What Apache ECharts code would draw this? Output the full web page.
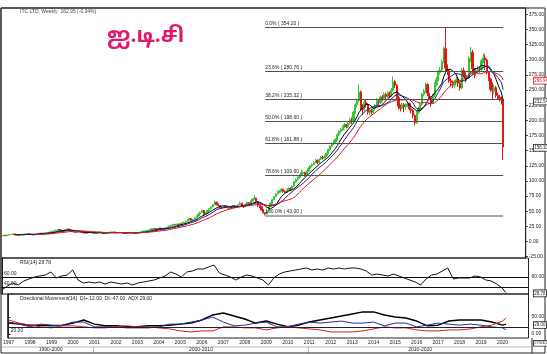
<!DOCTYPE html>
<html>
<head>
<meta charset="utf-8">
<title>ITC</title>
<script src="https://cdn.jsdelivr.net/npm/echarts@6/dist/echarts.min.js"></script>
<style>
  html, body { margin: 0; padding: 0; background: #fff; }
  #chart { width: 547px; height: 354px; }
</style>
</head>
<body>
<div id="chart"></div>
<script>
// monthly candles, Jan 1997 .. Mar 2020
var startYear = 1997
var closes = [
  9.5, 10.2, 9.8, 10.6, 11.3, 11.8, 12.4, 11.9, 11.2, 10.4, 10.9, 11.5,
  11.9, 12.6, 13.1, 12.4, 11.6, 10.9, 11.7, 12.3, 13.0, 13.8, 13.2, 13.9,
  14.6, 15.3, 14.7, 15.8, 16.9, 17.6, 18.8, 19.9, 18.6, 17.4, 18.2, 19.6,
  20.8, 19.1, 17.6, 16.4, 15.3, 14.8, 15.6, 16.2, 15.1, 14.2, 13.6, 14.4,
  14.9, 15.6, 14.3, 13.7, 14.2, 14.8, 15.4, 14.6, 13.0, 13.8, 14.5, 15.1,
  15.4, 15.9, 15.2, 14.6, 14.2, 14.8, 14.5, 14.0, 13.6, 14.1, 14.6, 15.2,
  14.9, 14.4, 13.9, 14.3, 15.2, 15.9, 16.8, 17.6, 18.4, 19.1, 19.8, 21.0,
  21.6, 20.8, 21.3, 22.0, 19.9, 21.1, 22.3, 23.0, 24.4, 25.6, 26.9, 28.3,
  27.6, 28.9, 28.2, 29.6, 30.8, 32.1, 33.5, 35.6, 37.8, 35.2, 36.9, 39.4,
  42.1, 45.6, 48.3, 51.2, 45.4, 47.8, 50.9, 54.1, 57.3, 60.6, 64.8, 61.5,
  59.3, 56.2, 55.4, 57.9, 56.6, 55.8, 55.1, 57.6, 59.1, 57.2, 58.8, 60.9,
  63.2, 58.9, 57.6, 61.8, 64.5, 63.1, 66.8, 69.9, 71.8, 65.6, 59.7, 57.4,
  52.1, 47.6, 45.3, 50.6, 58.2, 63.1, 69.2, 74.1, 78.6, 81.2, 83.4, 86.3,
  82.8, 81.3, 84.6, 87.5, 85.9, 91.2, 98.6, 102.1, 105.7, 108.9, 112.4, 113.8,
  109.6, 116.2, 121.1, 124.8, 127.2, 130.6, 134.1, 130.2, 135.8, 139.4, 137.9, 141.6,
  145.2, 151.8, 157.3, 161.9, 164.5, 168.7, 176.4, 181.9, 184.6, 189.3, 192.8, 189.6,
  195.4, 201.2, 198.3, 213.6, 225.8, 232.4, 246.9, 222.1, 217.6, 229.8, 226.4, 213.5,
  216.3, 213.8, 219.6, 224.1, 232.7, 228.9, 238.5, 236.4, 242.9, 239.6, 245.1, 241.3,
  249.6, 263.8, 258.2, 237.4, 223.6, 219.9, 225.8, 222.4, 224.9, 227.3, 219.1, 216.7,
  208.2, 196.1, 213.4, 219.6, 226.8, 243.2, 248.7, 259.4, 244.8, 237.2, 228.1, 241.6,
  259.3, 267.6, 279.4, 282.7, 296.8, 318.2, 286.4, 282.3, 265.1, 262.6, 257.9, 263.8,
  268.1, 261.4, 253.3, 282.6, 275.4, 269.8, 272.1, 302.3, 312.4, 285.1, 278.2, 282.4,
  285.3, 284.1, 298.6, 303.1, 299.6, 279.2, 268.1, 251.3, 249.2, 254.1, 241.2, 238.3,
  236.1, 234.0, 156.1
]
var highs = [
  9.9, 10.6, 10.5, 10.9, 11.6, 12.2, 12.8, 12.7, 12.1, 11.4, 11.2, 11.8,
  12.2, 12.9, 13.5, 13.4, 12.6, 11.8, 12.0, 12.6, 13.3, 14.2, 14.0, 14.2,
  15.0, 15.8, 15.6, 16.2, 17.4, 18.1, 19.3, 20.8, 20.1, 18.9, 18.6, 20.1,
  21.6, 21.2, 19.5, 17.9, 16.7, 15.6, 16.0, 16.6, 16.4, 15.4, 14.5, 14.8,
  15.3, 16.0, 15.8, 14.6, 14.5, 15.1, 15.8, 15.6, 14.9, 14.1, 14.8, 15.5,
  15.8, 16.3, 16.1, 15.4, 14.9, 15.1, 15.1, 14.7, 14.2, 14.4, 14.9, 15.5,
  15.6, 15.2, 14.6, 14.6, 15.5, 16.3, 17.2, 18.0, 18.9, 19.5, 20.3, 21.5,
  22.4, 22.0, 21.8, 22.6, 22.4, 21.5, 22.7, 23.5, 24.9, 26.1, 27.4, 28.9,
  29.1, 29.6, 29.5, 30.2, 31.4, 32.8, 34.2, 36.3, 38.6, 38.4, 37.5, 40.1,
  43.0, 46.6, 49.5, 52.8, 52.1, 48.7, 51.6, 55.0, 58.2, 61.7, 67.9, 65.7,
  62.6, 60.1, 57.4, 58.8, 58.6, 57.2, 56.7, 58.3, 60.2, 59.8, 59.6, 61.9,
  65.7, 64.1, 59.6, 62.5, 65.8, 65.2, 67.9, 71.0, 76.5, 72.4, 66.3, 60.6,
  58.3, 53.4, 48.1, 51.7, 59.6, 64.8, 70.1, 75.4, 79.8, 83.6, 85.1, 87.9,
  87.2, 84.5, 85.7, 88.9, 89.1, 92.6, 99.7, 103.8, 107.2, 110.8, 114.3, 116.2,
  115.2, 117.4, 122.6, 126.3, 128.9, 132.1, 136.5, 135.2, 137.1, 141.2, 141.8, 143.4,
  147.1, 153.4, 159.2, 163.8, 167.1, 170.3, 178.6, 183.7, 187.4, 191.2, 195.6, 194.1,
  198.2, 204.5, 205.1, 215.8, 228.4, 236.1, 258.6, 249.3, 226.7, 233.4, 234.6, 228.1,
  219.8, 219.4, 222.7, 227.6, 236.8, 235.4, 241.2, 242.1, 246.3, 245.8, 248.7, 247.6,
  253.1, 272.4, 266.9, 259.8, 240.2, 226.4, 229.1, 228.7, 228.3, 231.6, 229.4, 222.5,
  218.6, 209.7, 215.1, 222.8, 229.7, 245.6, 252.1, 262.8, 261.2, 248.5, 239.6, 244.2,
  262.8, 271.2, 283.1, 287.9, 300.4, 321.6, 354.2, 292.6, 284.8, 269.4, 266.3, 266.9,
  272.6, 270.5, 263.8, 285.7, 287.3, 279.6, 275.4, 305.8, 321.2, 316.4, 286.7, 286.3,
  290.6, 289.4, 301.2, 310.8, 308.7, 302.4, 281.5, 270.6, 262.8, 259.4, 256.8, 245.7,
  241.8, 239.6, 236.5
]
var lows = [
  8.8, 9.2, 9.5, 9.5, 10.3, 11.0, 11.5, 11.6, 10.9, 10.1, 10.2, 10.7,
  11.3, 11.7, 12.4, 12.1, 11.3, 10.6, 10.7, 11.5, 12.1, 12.8, 12.9, 13.0,
  13.6, 14.3, 14.4, 14.5, 15.5, 16.6, 17.4, 18.5, 18.2, 17.1, 17.0, 17.9,
  19.2, 18.7, 17.2, 16.0, 14.9, 14.5, 14.6, 15.3, 14.8, 13.9, 13.3, 13.4,
  14.1, 14.6, 14.0, 13.4, 13.5, 14.0, 14.6, 14.3, 12.6, 12.8, 13.6, 14.3,
  14.8, 15.1, 14.9, 14.3, 13.9, 14.0, 14.2, 13.7, 13.3, 13.4, 13.9, 14.4,
  14.6, 14.1, 13.6, 13.6, 14.1, 15.0, 15.7, 16.6, 17.4, 18.2, 18.9, 19.6,
  20.6, 20.3, 20.4, 21.0, 19.2, 19.6, 20.8, 22.0, 22.8, 24.1, 25.3, 26.5,
  26.9, 27.3, 27.6, 27.9, 29.2, 30.4, 31.8, 33.1, 35.1, 34.5, 34.8, 36.5,
  38.6, 41.5, 44.8, 47.6, 43.8, 44.6, 47.0, 50.1, 53.3, 56.5, 60.1, 59.8,
  58.1, 55.4, 54.1, 54.8, 55.7, 54.9, 54.0, 54.6, 56.8, 56.3, 56.5, 58.1,
  60.2, 57.8, 55.3, 56.9, 60.8, 62.1, 62.4, 66.0, 68.9, 63.8, 57.1, 55.2,
  50.8, 46.2, 43.0, 44.6, 49.8, 56.9, 61.8, 68.4, 72.9, 77.4, 80.2, 82.6,
  80.4, 79.6, 80.7, 83.5, 83.6, 85.1, 90.4, 97.1, 100.9, 104.3, 107.6, 110.5,
  106.8, 108.1, 114.9, 119.7, 122.5, 125.8, 129.4, 127.6, 128.9, 134.5, 135.6, 136.8,
  139.8, 143.9, 149.6, 155.2, 159.4, 162.1, 166.8, 174.2, 179.3, 182.6, 186.7, 186.9,
  187.4, 193.1, 194.2, 196.5, 210.9, 221.7, 229.4, 216.3, 208.9, 214.8, 221.3, 209.6,
  209.4, 210.2, 211.8, 216.9, 221.4, 224.6, 227.3, 231.6, 234.8, 233.1, 237.2, 236.9,
  238.9, 247.2, 253.6, 234.5, 218.3, 214.7, 217.6, 213.9, 217.2, 221.8, 216.4, 211.9,
  203.5, 191.8, 194.6, 210.4, 216.9, 224.3, 239.5, 245.8, 240.1, 233.6, 222.4, 226.7,
  238.6, 256.4, 264.8, 275.3, 280.1, 294.6, 279.4, 274.9, 261.7, 255.8, 253.2, 254.1,
  261.2, 255.7, 248.9, 251.8, 271.6, 262.4, 265.3, 270.8, 296.5, 276.3, 269.6, 274.1,
  276.9, 278.6, 281.8, 294.6, 283.2, 276.1, 264.8, 247.3, 234.6, 244.1, 237.6, 233.9,
  231.4, 226.3, 134.5
]
var maPeriods = [8, 12, 20]
var maColors = ['#000000', '#1c1c8c', '#e01818']

// fibonacci retracement between the 2009 low and the 2017 high
var fibLow = 43.00
var fibHigh = 354.20
var fibLowIdx = 146
var fibRatios = [0, 23.6, 38.2, 50, 61.8, 78.6, 100]

// indicator readings, one value every rsiStep / dmiStep months
var rsiStep = 3
var rsiVals = [
  34, 42, 48, 44, 52, 56, 60, 62, 64, 70, 58, 62, 64, 74, 54, 48, 50, 48, 50, 46,
  50, 48, 46, 48, 44, 48, 50, 52, 54, 58, 62, 70, 66, 60, 70, 72, 76, 76, 80, 84,
  68, 64, 60, 54, 60, 64, 62, 58, 54, 44, 58, 66, 70, 72, 74, 76, 78, 74, 76, 74,
  78, 76, 78, 76, 78, 78, 76, 72, 64, 66, 64, 62, 66, 62, 58, 54, 50, 44, 56, 64,
  66, 72, 78, 56, 58, 58, 58, 62, 60, 54, 52, 46, 38, 28.78
]
var dmiStep = 6
var adxVals = [
  32, 29, 26, 26, 24, 26, 32, 41, 29, 24, 24, 21, 21, 24, 24, 26, 29, 32, 41, 56,
  62, 53, 44, 32, 38, 29, 21, 26, 35, 41, 47, 53, 59, 65, 65, 56, 50, 47, 38, 24,
  26, 38, 41, 41, 41, 35, 26, 29
]
var diPlusVals = [
  35, 29, 21, 29, 26, 24, 35, 35, 21, 21, 21, 18, 18, 18, 21, 29, 29, 35, 41, 50,
  35, 24, 26, 32, 35, 21, 21, 29, 35, 32, 35, 38, 32, 32, 35, 24, 32, 32, 21, 26,
  32, 29, 26, 29, 26, 21, 18, 12
]
var diMinusVals = [
  41, 32, 26, 21, 18, 24, 24, 21, 18, 18, 21, 24, 21, 21, 18, 15, 9, 6, 9, 9,
  21, 21, 18, 18, 12, 18, 21, 18, 15, 12, 6, 6, 6, 9, 15, 21, 18, 18, 12, 9,
  9, 12, 12, 15, 21, 26, 38, 47
]

var priceTicks = [-25, 0, 25, 50, 75, 100, 125, 150, 175, 200, 225, 250, 275, 300, 325, 350, 375]
var rsiLevels = [60, 40]
var adxLevel = 20
var eraLabels = ['1990-2000', '2000-2010', '2010-2020']
var eraStartIdx = [0, 48, 168]

var nCats = 291
var lastIdx = closes.length - 1

var cats = []
for (var i = 0; i < nCats; i++) {
  cats.push((startYear + Math.floor(i / 12)) + '-' + (i % 12 + 1))
}

var candles = []
for (var i = 0; i < closes.length; i++) {
  var o = i == 0 ? closes[0] : closes[i - 1]
  candles.push([o, closes[i], lows[i], highs[i]])
}

function sma(arr, n) {
  var out = []
  for (var i = 0; i < arr.length; i++) {
    if (i < n - 1) { out.push(null); continue }
    var s = 0
    for (var k = i - n + 1; k <= i; k++) s += arr[k]
    out.push(+(s / n).toFixed(2))
  }
  return out
}

function stepped(vals, step) {
  return vals.map(function (v, i) { return [Math.min(i * step, lastIdx), v] })
}

var maLines = maPeriods.map(function (n) { return sma(closes, n) })

var fibData = fibRatios.map(function (r) {
  var lvl = fibHigh - (fibHigh - fibLow) * r / 100
  var last = r == 100
  return [
    {
      coord: [fibLowIdx, lvl],
      lineStyle: { color: last ? '#a8a8a8' : '#505050', width: last ? 2 : 1, type: 'solid' },
      label: {
        show: true, position: 'insideStartTop', distance: [0, 1],
        formatter: r.toFixed(1) + '% ( ' + lvl.toFixed(2) + ' )',
        fontSize: 5, color: '#222', fontFamily: 'Liberation Sans'
      }
    },
    { coord: [lastIdx, lvl] }
  ]
})

var smallLabel = { fontSize: 5, color: '#222', fontFamily: 'Liberation Sans', margin: 3 }
var yearTicks = []
for (var y = 0; y < 24; y++) yearTicks.push(y * 12)

var chart = echarts.init(document.getElementById('chart'), null, { renderer: 'canvas' })

var option = {
  animation: false,
  backgroundColor: '#ffffff',
  grid: [
    { left: 1, top: 8, width: 531, height: 250, show: true, borderColor: '#222', borderWidth: 1 },
    { left: 1, top: 258, width: 531, height: 36, show: true, borderColor: '#222', borderWidth: 1 },
    { left: 1, top: 294, width: 531, height: 44, show: true, borderColor: '#222', borderWidth: 1 }
  ],
  xAxis: [
    { type: 'category', gridIndex: 0, data: cats, boundaryGap: true,
      axisLine: { show: false }, axisTick: { show: false }, axisLabel: { show: false }, splitLine: { show: false } },
    { type: 'value', gridIndex: 1, min: -0.5, max: nCats - 0.5, show: false },
    { type: 'value', gridIndex: 2, min: -0.5, max: nCats - 0.5,
      axisLine: { show: false }, splitLine: { show: false },
      axisTick: { show: false },
      axisLabel: Object.assign({}, smallLabel, {
        customValues: yearTicks, margin: 2, fontSize: 5,
        formatter: function (v) { return String(startYear + Math.round(v / 12)) }
      })
    }
  ],
  yAxis: [
    { type: 'value', gridIndex: 0, position: 'right', min: -27.2, max: 385.6, scale: true,
      axisLine: { show: true, lineStyle: { color: '#222' } },
      axisTick: { show: true, customValues: priceTicks, length: 2, lineStyle: { color: '#222' } },
      axisLabel: Object.assign({}, smallLabel, { customValues: priceTicks, formatter: function (v) { return v.toFixed(2) } }),
      splitLine: { show: false } },
    { type: 'value', gridIndex: 1, position: 'right', min: 26, max: 98,
      axisLine: { show: true, lineStyle: { color: '#222' } },
      axisTick: { show: true, customValues: [60], length: 2 },
      axisLabel: Object.assign({}, smallLabel, { customValues: [60], formatter: function (v) { return v.toFixed(2) } }),
      splitLine: { show: false } },
    { type: 'value', gridIndex: 2, position: 'right', min: -11.8, max: 117.6,
      axisLine: { show: true, lineStyle: { color: '#222' } },
      axisTick: { show: true, customValues: [0, 50], length: 2 },
      axisLabel: Object.assign({}, smallLabel, { customValues: [0, 50], formatter: function (v) { return v.toFixed(2) } }),
      splitLine: { show: false } }
  ],
  series: [
    {
      type: 'candlestick', xAxisIndex: 0, yAxisIndex: 0, data: candles, barWidth: '95%',
      itemStyle: { color: '#33c633', color0: '#e01818', borderColor: '#33c633', borderColor0: '#e01818', borderWidth: 1 },
      markLine: { silent: true, symbol: ['none', 'none'], data: fibData }
    },
    { type: 'line', xAxisIndex: 0, yAxisIndex: 0, data: maLines[0], showSymbol: false, lineStyle: { color: maColors[0], width: 1 } },
    { type: 'line', xAxisIndex: 0, yAxisIndex: 0, data: maLines[1], showSymbol: false, lineStyle: { color: maColors[1], width: 1 } },
    { type: 'line', xAxisIndex: 0, yAxisIndex: 0, data: maLines[2], showSymbol: false, lineStyle: { color: maColors[2], width: 1 } },
    {
      type: 'line', xAxisIndex: 1, yAxisIndex: 1, data: stepped(rsiVals, rsiStep), showSymbol: false,
      lineStyle: { color: '#111', width: 1 },
      markLine: {
        silent: true, symbol: ['none', 'none'],
        lineStyle: { color: '#111', width: 1, type: 'solid' },
        label: { show: true, position: 'insideStartTop', distance: [3, 1], fontSize: 5, color: '#222',
          formatter: function (p) { return p.value.toFixed(2) } },
        data: rsiLevels.map(function (v) { return { yAxis: v } })
      }
    },
    { type: 'line', xAxisIndex: 2, yAxisIndex: 2, data: stepped(adxVals, dmiStep), showSymbol: false,
      lineStyle: { color: '#000', width: 1.5 },
      markLine: {
        silent: true, symbol: ['none', 'none'],
        lineStyle: { color: '#222', width: 1, type: 'solid' },
        label: { show: true, position: 'insideStartBottom', distance: [3, 1], fontSize: 5, color: '#222',
          formatter: function (p) { return p.value.toFixed(2) } },
        data: [{ yAxis: adxLevel }]
      }
    },
    { type: 'line', xAxisIndex: 2, yAxisIndex: 2, data: stepped(diPlusVals, dmiStep), showSymbol: false,
      lineStyle: { color: '#2a2aa0', width: 1 } },
    { type: 'line', xAxisIndex: 2, yAxisIndex: 2, data: stepped(diMinusVals, dmiStep), showSymbol: false,
      lineStyle: { color: '#e01818', width: 1 } }
  ]
}

chart.setOption(option)

// static texts, frame and value boxes on the right scale
function box(yAxisIndex, value, color) {
  var py = chart.convertToPixel({ yAxisIndex: yAxisIndex }, value)
  return {
    type: 'text', left: 533, top: py - 3, z: 20,
    style: { text: value.toFixed(2), fontSize: 4.5, fill: color, fontFamily: 'Liberation Sans',
      backgroundColor: '#fff', borderColor: color, borderWidth: 0.8, padding: [0.5, 0.5] }
  }
}

var g = [
  { type: 'rect', shape: { x: 1, y: 8, width: 544, height: 345 }, style: { fill: 'none', stroke: '#222', lineWidth: 1 }, z: 10 },
  { type: 'line', shape: { x1: 532, y1: 338, x2: 532, y2: 353 }, style: { stroke: '#222', lineWidth: 1 }, z: 10 },
  { type: 'line', shape: { x1: 1, y1: 347, x2: 532, y2: 347 }, style: { stroke: '#888', lineWidth: 0.6 }, z: 10 },
  { type: 'text', left: 20, top: 9, style: { text: 'ITC LTD, Weekly  162.95 (-0.34%)', fontSize: 5, fill: '#444', fontFamily: 'Liberation Sans' } },
  { type: 'text', left: 107, top: 27, style: { text: 'ஐ.டி.சி', fontSize: 21, fontWeight: 'bold', fill: '#e0196b', fontFamily: 'Noto Sans Tamil, Lohit Tamil, sans-serif' } },
  { type: 'text', left: 20, top: 260, style: { text: 'RSI(14) 28.78', fontSize: 5, fill: '#222', fontFamily: 'Liberation Sans' } },
  { type: 'text', left: 20, top: 296, style: { text: 'Directional Movement(14)  DI+:12.00  DI-:47.00  ADX:29.00', fontSize: 5, fill: '#222', fontFamily: 'Liberation Sans' } },
  { type: 'text', left: 533, top: 340, z: 20, style: { text: '27/03/20', fontSize: 4, fill: '#222', backgroundColor: '#fff', borderColor: '#222', borderWidth: 0.8, padding: [0.5, 0.5], fontFamily: 'Liberation Sans' } }
]

eraStartIdx.forEach(function (idx, k) {
  var x0 = chart.convertToPixel({ xAxisIndex: 2 }, idx - 0.5)
  var x1 = k + 1 < eraStartIdx.length ? chart.convertToPixel({ xAxisIndex: 2 }, eraStartIdx[k + 1] - 0.5) : 532
  if (k > 0) g.push({ type: 'line', shape: { x1: x0, y1: 347, x2: x0, y2: 353 }, style: { stroke: '#888', lineWidth: 0.6 } })
  g.push({ type: 'text', x: (x0 + x1) / 2, y: 350, style: { text: eraLabels[k], fontSize: 5, fill: '#222', align: 'center', verticalAlign: 'middle', fontFamily: 'Liberation Sans' } })
})

g.push(box(0, maLines[2][lastIdx], '#e01818'))
g.push(box(0, maLines[0][lastIdx], '#222'))
g.push(box(0, closes[lastIdx], '#222'))
g.push(box(1, rsiVals[rsiVals.length - 1], '#222'))
g.push(box(2, adxVals[adxVals.length - 1], '#222'))

chart.setOption({ graphic: g })
</script>
</body>
</html>
